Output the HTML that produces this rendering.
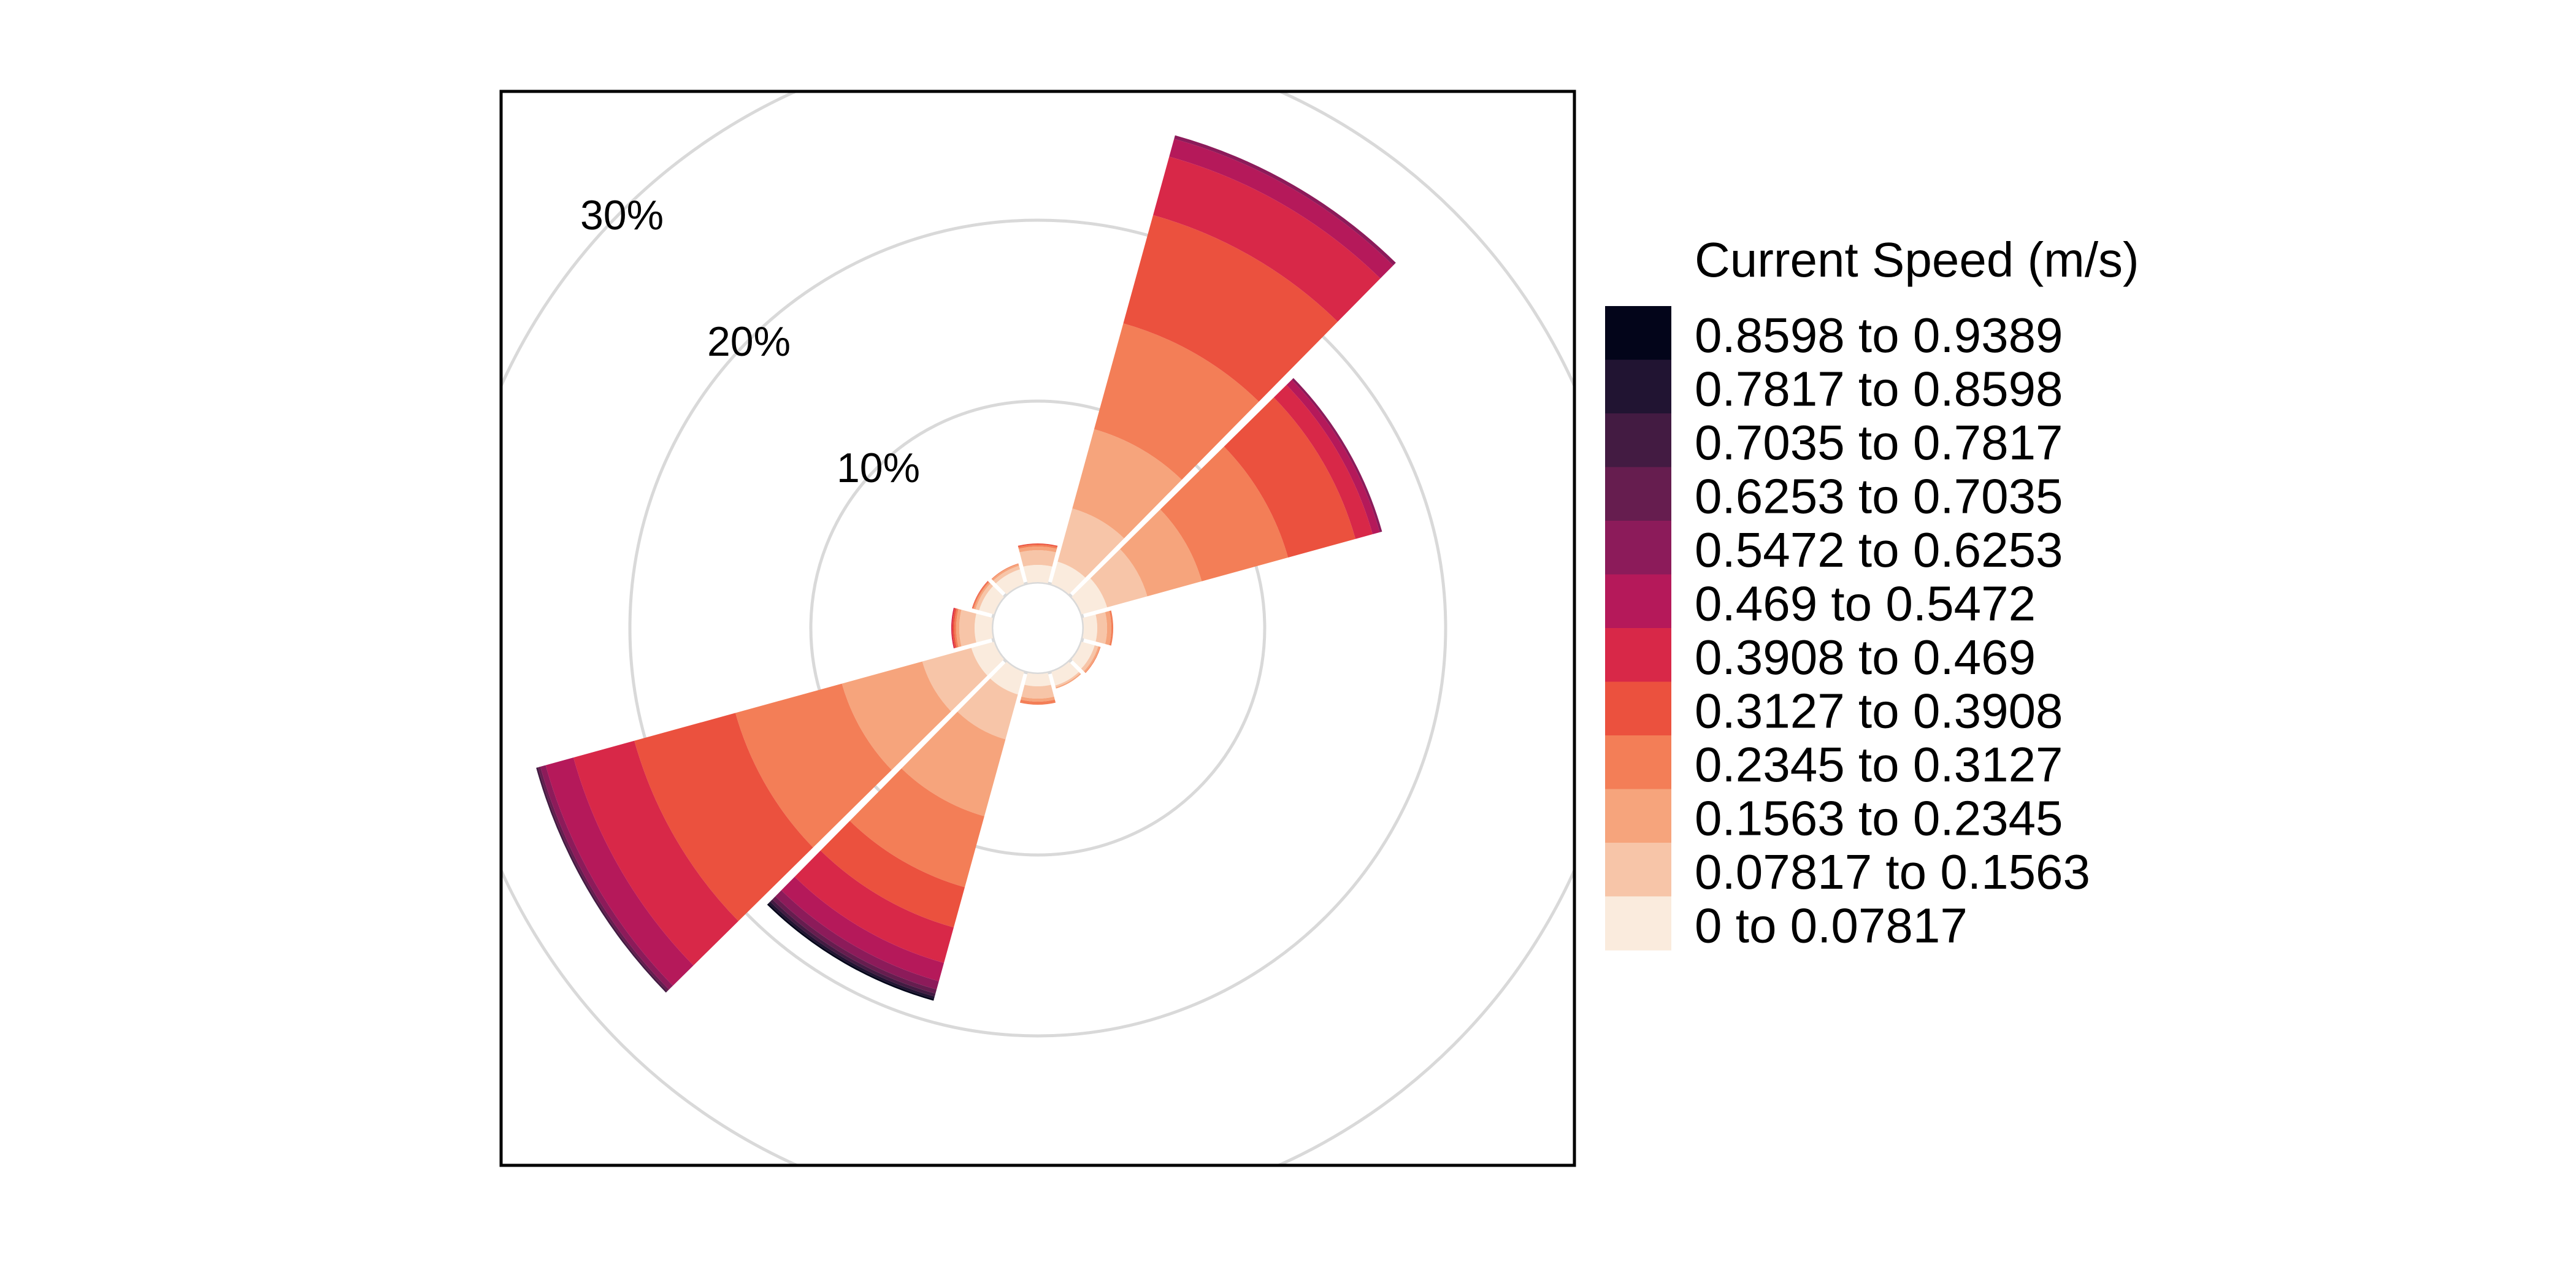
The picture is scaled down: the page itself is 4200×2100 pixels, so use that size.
<!DOCTYPE html>
<html><head><meta charset="utf-8"><style>
html,body{margin:0;padding:0;background:#fff;}
svg{display:block;}
text{font-family:"Liberation Sans",Arial,sans-serif;fill:#000;}
</style></head><body>
<svg id="s" width="4200" height="2100" viewBox="0 0 4200 2100" xmlns="http://www.w3.org/2000/svg">
<rect width="4200" height="2100" fill="#fff"/>
<defs><clipPath id="cp"><rect x="817" y="149" width="1750" height="1751"/></clipPath></defs>
<g clip-path="url(#cp)" fill="none" stroke="#D9D9D9" stroke-width="5">
<circle cx="1692" cy="1024" r="75"/>
<circle cx="1692" cy="1024" r="370"/>
<circle cx="1692" cy="1024" r="665"/>
<circle cx="1692" cy="1024" r="960"/>
</g>
<g id="w" clip-path="url(#cp)"></g>
<text x="1014" y="374" font-size="68" text-anchor="middle">30%</text>
<text x="1221" y="580" font-size="68" text-anchor="middle">20%</text>
<text x="1432" y="786" font-size="68" text-anchor="middle">10%</text>
<rect x="817" y="149" width="1750" height="1751" fill="none" stroke="#000" stroke-width="5"/>
<text x="2763" y="451" font-size="80">Current Speed (m/s)</text>
<g id="leg"></g>
</svg>
<script>
(function(){
var C=["#FAEBDD","#F7C5A8","#F6A47C","#F37E57","#EB513E","#D82848","#B5195A","#8C1B5A","#661D4F","#431B42","#211432","#03051A"];
var L=["0 to 0.07817","0.07817 to 0.1563","0.1563 to 0.2345","0.2345 to 0.3127","0.3127 to 0.3908","0.3908 to 0.469","0.469 to 0.5472","0.5472 to 0.6253","0.6253 to 0.7035","0.7035 to 0.7817","0.7817 to 0.8598","0.8598 to 0.9389"];
var D={0:[103,127,133,136,138],30:[113,203,337,516,699,798,828,834],60:[118,186,278,424,538,567,579,583],
90:[97,113,120,123],120:[97,103,106,107],150:[98,101,103],180:[95,115,120,125],
210:[113,189,319,439,507,567,598,612,619,624,628,631],240:[113,196,332,512,683,786,833,842,846,849],
270:[103,128,133,136,139,141],300:[100,106,109,111,112],330:[100,106,109,110]};
var cx=1692,cy=1024;
function pt(r,a){var t=a*Math.PI/180;return [cx+r*Math.sin(t),cy-r*Math.cos(t)];}
function dl(r){return Math.asin(Math.min(1,2.5/r))*180/Math.PI+0.4;}
var g=document.getElementById("w"),h="";
for(var k in D){var a=+k,arr=D[k],rin=75;
 for(var i=0;i<arr.length;i++){var ro=arr[i];
  var p1=pt(rin,a-15+dl(rin)),p2=pt(ro,a-15+dl(ro)),p3=pt(ro,a+15-dl(ro)),p4=pt(rin,a+15-dl(rin));
  h+='<path fill="'+C[i]+'" d="M'+p1+' L'+p2+' A'+ro+' '+ro+' 0 0 1 '+p3+' L'+p4+' A'+rin+' '+rin+' 0 0 0 '+p1+'Z"/>';
  rin=ro;}
}
g.innerHTML=h;
var lg="",y0=499,st=87.5;
for(var j=0;j<12;j++){var idx=11-j,y=y0+j*st;
 lg+='<rect x="2617" y="'+y+'" width="108" height="'+(st+0.6)+'" fill="'+C[idx]+'"/>';
 lg+='<text x="2763" y="'+(y+75)+'" font-size="80">'+L[idx]+'</text>';}
document.getElementById("leg").innerHTML=lg;
})();
</script>
</body></html>
